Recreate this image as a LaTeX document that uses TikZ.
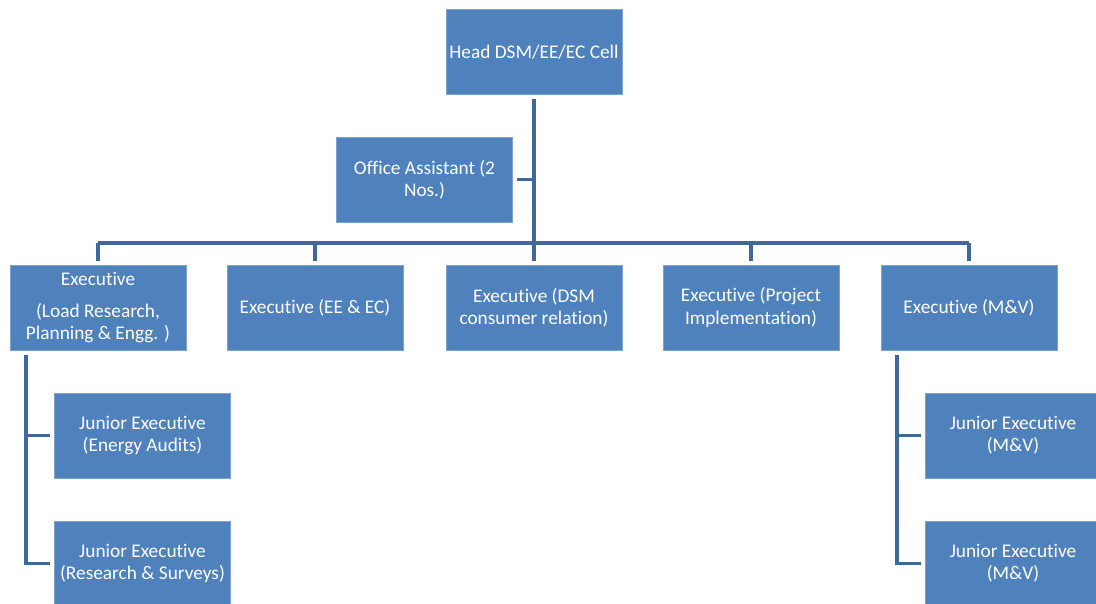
\documentclass[tikz,border=0pt]{standalone}
\usepackage{fontspec}
\setmainfont[Ligatures=NoCommon]{Carlito}
\definecolor{boxblue}{HTML}{4F81BD}
\definecolor{boxedge}{HTML}{7FA2CE}
\definecolor{linkblue}{HTML}{41689B}
\tikzset{
  post/.style={rectangle,fill=boxblue,draw=boxedge,line width=0.5pt,text=white,
    minimum width=3.52cm,minimum height=1.7cm,inner sep=0pt,align=center,
    font=\fontsize{11pt}{12.6pt}\selectfont},
  link/.style={draw=linkblue,line width=2.2pt}
}

\begin{document}
\begin{tikzpicture}[x=0.02cm,y=-0.02cm]
    \pgfmathsetmacro{\busy}{243}
    \pgfmathsetmacro{\gap}{0.08}
    \useasboundingbox (0,0) rectangle (1096,603);
    % top of the cell
    \node[post] (head) at (534,52) {Head DSM/EE/EC Cell};
    \node[post] (office) at (424.5,179.5) {Office Assistant (2\\Nos.)};
    % executives
    \node[post] (exload) at (98,307.5) {Executive\\[6pt](Load Research,\\Planning \& Engg. )};
    \node[post] (exee) at (315,307.5) {Executive (EE \& EC)};
    \node[post] (exdsm) at (534,307.5) {Executive (DSM\\consumer relation)};
    \node[post] (exproj) at (751,307.5) {Executive (Project\\Implementation)};
    \node[post] (exmv) at (969,307.5) {Executive (M\&V)};
    % junior executives
    \node[post] (jraudit) at (142.5,435.5) {Junior Executive\\(Energy Audits)};
    \node[post] (jrsurvey) at (142.5,563.5) {Junior Executive\\(Research \& Surveys)};
    \node[post] (jrmvA) at (1013,435.5) {Junior Executive\\(M\&V)};
    \node[post] (jrmvB) at (1013,563.5) {Junior Executive\\(M\&V)};
    % connectors
    \coordinate (busL) at (exload.north |- 0,\busy);
    \coordinate (busR) at (exmv.north |- 0,\busy);
    \draw[link] (busL) -- (busR);
    \draw[link] ([yshift=-\gap cm]head.south) -- (head.south |- busL);
    \draw[link] ([xshift=\gap cm]office.east) -- (office.east -| head.south);
    \foreach \ex in {exload,exee,exdsm,exproj,exmv}
      \draw[link] (\ex.north |- busL) -- ([yshift=\gap cm]\ex.north);
    \coordinate (spineL) at (26,355);
    \coordinate (spineR) at (897,355);
    \draw[link] (spineL) |- ([xshift=-\gap cm]jrsurvey.west);
    \draw[link] (spineL |- jraudit.west) -- ([xshift=-\gap cm]jraudit.west);
    \draw[link] (spineR) |- ([xshift=-\gap cm]jrmvB.west);
    \draw[link] (spineR |- jrmvA.west) -- ([xshift=-\gap cm]jrmvA.west);
\end{tikzpicture}
\end{document}
